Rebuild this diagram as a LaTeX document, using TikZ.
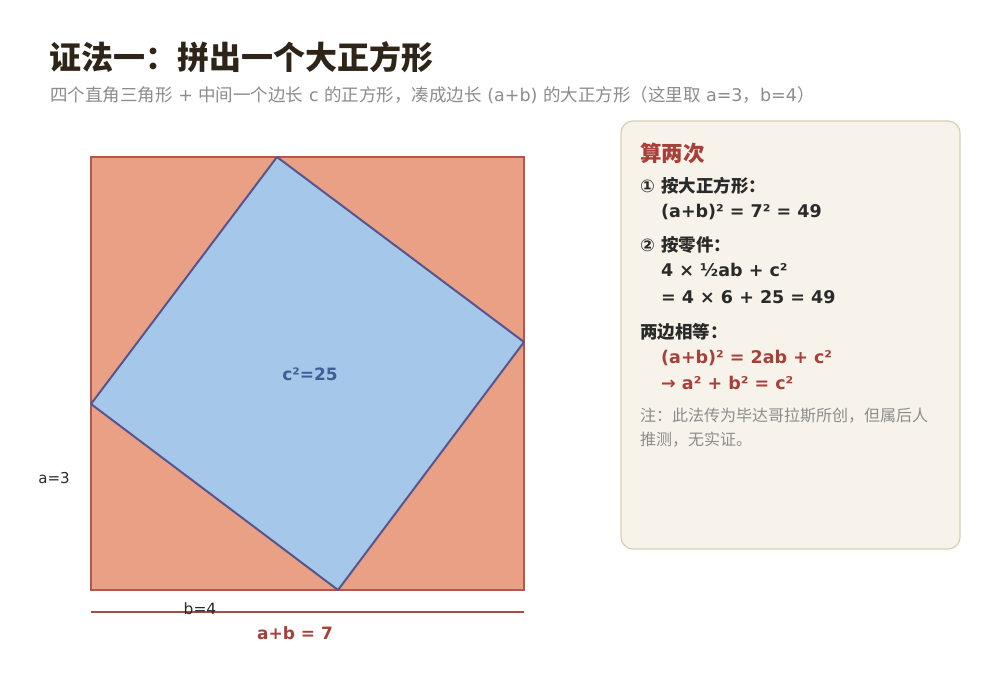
\documentclass[tikz,border=0pt]{standalone}
\usepackage{fontspec}
\setmainfont{Noto Sans CJK SC}
\newfontfamily\lat{DejaVu Sans}
\definecolor{orfill}{HTML}{E9A084}
\definecolor{orline}{HTML}{B5564A}
\definecolor{blfill}{HTML}{A5C7E9}
\definecolor{blline}{HTML}{58558C}
\definecolor{titlec}{HTML}{2E2418}
\definecolor{greyc}{HTML}{8C8C8C}
\definecolor{redc}{HTML}{A8403A}
\definecolor{labc}{HTML}{3D5F94}
\definecolor{panelf}{HTML}{F8F3EA}
\definecolor{panell}{HTML}{D8CDB5}
\definecolor{darkc}{HTML}{2A2A2A}
\tikzset{
  txt/.style={anchor=base west, inner sep=0pt},
  boldtxt/.style={txt, font=\bfseries\fontsize{17.5}{20}\selectfont, text=darkc},
  redtxt/.style={txt, font=\bfseries\fontsize{17.5}{20}\selectfont, text=redc},
  notetxt/.style={txt, font=\fontsize{16}{18}\selectfont, text=greyc},
}
\begin{document}
\begin{tikzpicture}[x=1pt,y=-1pt]
\useasboundingbox (0,0) rectangle (1000,700);
\fill[white] (0,0) rectangle (1000,700);
% title
\node[txt, font=\bfseries\fontsize{32}{36}\selectfont, text=titlec] (title) at (49,70) {证法一：拼出一个大正方形};
\node[txt, font=\fontsize{17.5}{19}\selectfont, text=greyc] (sub) at (50,102) {四个直角三角形{\lat\ + }中间一个边长{\lat\ c }的正方形，凑成边长{\lat\ (a+b) }的大正方形（这里取{\lat\ a=3}，{\lat b=4}）};
% big square
\coordinate (A) at (91,157);
\coordinate (B) at (524,157);
\coordinate (C) at (524,590);
\coordinate (D) at (91,590);
\coordinate (P) at (277,157);
\coordinate (Q) at (524,342);
\coordinate (R) at (338,590);
\coordinate (S) at (91,404);
\fill[orfill] (A) -- (B) -- (C) -- (D) -- cycle;
\draw[orline, line width=1.6pt] (A) -- (B) -- (C) -- (D) -- cycle;
\filldraw[fill=blfill, draw=blline, line width=2pt, line join=round] (P) -- (Q) -- (R) -- (S) -- cycle;
\node[font=\lat\bfseries\fontsize{17}{18}\selectfont, text=labc] (c2) at (310,374) {c²=25};
\node[font=\lat\fontsize{15}{16}\selectfont, text=darkc] (la) at (54,478) {a=3};
% bottom line
\coordinate (L1) at (91,612);
\coordinate (L2) at (524,612);
\draw[orline!90!black, line width=1.4pt] (L1) -- (L2);
\node[font=\lat\fontsize{15.5}{16}\selectfont, text=darkc] (lb) at (200,609) {b=4};
\node[font=\lat\bfseries\fontsize{17}{20}\selectfont, text=redc] (lab) at (295,633) {a+b = 7};
% panel
\filldraw[fill=panelf, draw=panell, line width=1.2pt, rounded corners=12pt] (621,121) rectangle (960,549);
\node[txt, font=\bfseries\fontsize{21.5}{24}\selectfont, text=redc] (ph) at (640,162) {算两次};
\node[boldtxt] (s1) at (640,193) {{\lat ① }按大正方形：};
\node[boldtxt] (s1a) at (661,218) {\lat (a+b)² = 7² = 49};
\node[boldtxt] (s2) at (640,252) {{\lat ② }按零件：};
\node[boldtxt] (s2a) at (661,277) {\lat 4 × ½ab + c²};
\node[boldtxt] (s2b) at (661,303) {\lat = 4 × 6 + 25 = 49};
\node[boldtxt] (s3) at (640,338) {两边相等：};
\node[redtxt] (s3a) at (661,363) {\lat (a+b)² = 2ab + c²};
\node[redtxt] (s3b) at (661,389) {\lat → a² + b² = c²};
\node[notetxt] (n1) at (640,421) {注：此法传为毕达哥拉斯所创，但属后人};
\node[notetxt] (n2) at (640,445) {推测，无实证。};
\end{tikzpicture}
\end{document}
